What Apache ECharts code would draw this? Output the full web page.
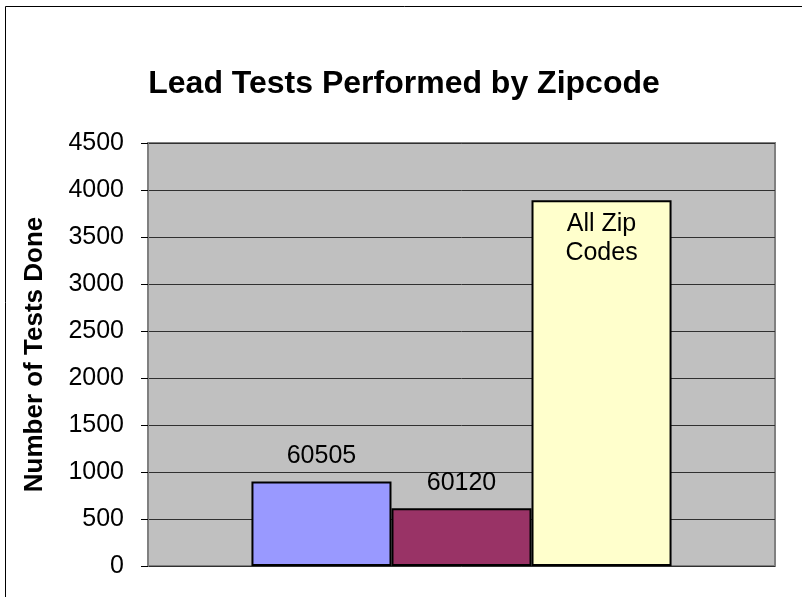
<!DOCTYPE html>
<html>
<head>
<meta charset="utf-8">
<script src="https://cdn.jsdelivr.net/npm/echarts@6/dist/echarts.min.js"></script>
<style>
html, body { margin: 0; padding: 0; background: #fff; }
#chart { width: 802px; height: 597px; }
</style>
</head>
<body>
<div id="chart"></div>
<script>
// data
var categories = [""];
var seriesNames = ["60505", "60120", "All Zip\nCodes"];
var seriesValues = [[900], [615], [3890]];
var seriesColors = ["#9999FF", "#993366", "#FFFFCC"];
var yTicks = { min: 0, max: 4500, interval: 500 };

var chart = echarts.init(document.getElementById("chart"));

var series = seriesNames.map(function (name, i) {
      return {
            name: name,
            type: "bar",
            data: seriesValues[i],
            barGap: "0%",
            barCategoryGap: "33%",
            itemStyle: {
                  color: seriesColors[i],
                  borderColor: "#000",
                  borderWidth: 2,
            },
            label: {
                  show: true,
                  position: i == 2 ? "insideTop" : "top",
                  distance: i == 2 ? 9 : 11,
                  formatter: name,
                  color: "#000",
                  fontSize: 25,
                  fontFamily: "Liberation Sans",
                  lineHeight: 29,
            },
      };
});

chart.setOption({
      animation: false,
      title: {
            text: "Lead Tests Performed by Zipcode",
            left: 399,
            textAlign: "center",
            top: 63,
            textStyle: {
                  fontFamily: "Liberation Sans",
                  fontWeight: "bold",
                  fontSize: 32,
                  color: "#000",
            },
      },
      graphic: [
            {
                  type: "rect",
                  shape: { x: 5.5, y: 6.5, width: 900, height: 900 },
                  style: { fill: "none", stroke: "#000", lineWidth: 1 },
                  silent: true,
            },
      ],
      grid: {
            left: 148,
            right: 27,
            top: 143,
            bottom: 31,
            show: true,
            backgroundColor: "#C0C0C0",
            borderColor: "#808080",
            borderWidth: 2,
      },
      xAxis: {
            type: "category",
            data: categories,
            axisLine: { show: false },
            axisTick: { show: false },
            axisLabel: { show: false },
      },
      yAxis: {
            type: "value",
            min: yTicks.min,
            max: yTicks.max,
            interval: yTicks.interval,
            name: "Number of Tests Done",
            nameLocation: "middle",
            nameGap: 100,
            nameTextStyle: {
                  fontFamily: "Liberation Sans",
                  fontWeight: "bold",
                  fontSize: 26,
                  color: "#000",
            },
            axisLine: { show: true, lineStyle: { color: "#808080", width: 2 } },
            axisTick: { show: true, length: 7, lineStyle: { color: "#000" } },
            axisLabel: {
                  fontFamily: "Liberation Sans",
                  fontSize: 25,
                  color: "#000",
                  margin: 24,
                  formatter: function (v) { return String(v); },
            },
            splitLine: { show: true, lineStyle: { color: "#303030", width: 1 } },
      },
      series: series,
});
</script>
</body>
</html>
